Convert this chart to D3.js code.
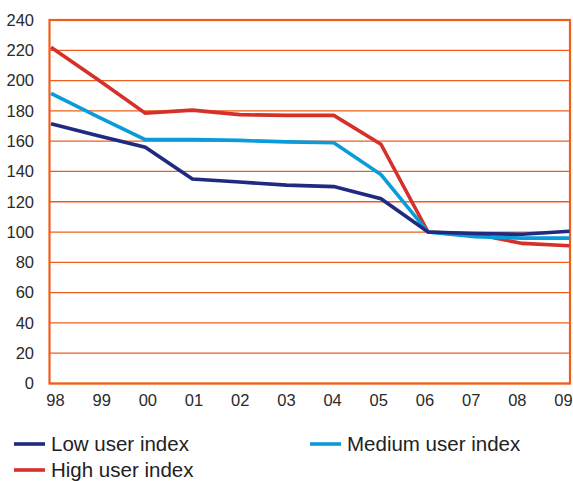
<!DOCTYPE html>
<html>
<head>
<meta charset="utf-8">
<script src="https://cdn.jsdelivr.net/npm/d3@7/dist/d3.min.js"></script>
<style>
  html, body { margin: 0; padding: 0; background: #fff; }
  svg { display: block; font-family: "Liberation Sans", Arial, sans-serif; }
</style>
</head>
<body>
<svg id="chart" width="573" height="481"></svg>
<script>
// Years along the x axis
const years = ["98", "99", "00", "01", "02", "03", "04", "05", "06", "07", "08", "09"];
// Index values per user group
const lowUser    = [171.5, 163.5, 156, 135, 133, 131, 130, 122, 100, 99, 98.5, 100.5];
const mediumUser = [191.5, 176, 161, 161, 160.5, 159.5, 159, 138, 100, 97, 96, 96];
const highUser   = [222, 200.5, 178.5, 180.5, 177.5, 177, 177, 158, 100, 98.5, 92.5, 91];
// Y axis ticks
const yTicks = [0, 20, 40, 60, 80, 100, 120, 140, 160, 180, 200, 220, 240];

const seriesNames = ["Low user index", "Medium user index", "High user index"];
const seriesColors = ["#1f2a80", "#0a9bd9", "#d6302a"];
const seriesValues = [lowUser, mediumUser, highUser];

const svg = d3.select("#chart");
const orange = "#ee5f1e";

const plotLeft = 49.5, plotRight = 570, plotTop = 20, plotBottom = 383.5;

const y = d3.scaleLinear().domain([0, 240]).range([plotBottom, plotTop]);
const x = d3.scalePoint().domain(years).range([51, 569.5]);
const xLabels = d3.scalePoint().domain(years).range([55, 563]);

// Horizontal grid lines
svg.append("g")
  .selectAll("line")
  .data(yTicks)
  .join("line")
  .attr("x1", plotLeft).attr("x2", plotRight)
  .attr("y1", d => y(d)).attr("y2", d => y(d))
  .attr("stroke", orange)
  .attr("stroke-width", 1.3);

// Plot frame
svg.append("rect")
  .attr("x", plotLeft).attr("y", plotTop)
  .attr("width", plotRight - plotLeft).attr("height", plotBottom - plotTop)
  .attr("fill", "none")
  .attr("stroke", orange)
  .attr("stroke-width", 2.2);

// Y axis labels
const yAxis = d3.axisLeft(y).tickValues(yTicks).tickSize(0).tickPadding(0);
const gy = svg.append("g").attr("transform", "translate(34,0)").call(yAxis);
gy.select(".domain").remove();
gy.selectAll("text")
  .attr("font-size", 16.5)
  .attr("fill", "#2a2a2a")
  .attr("font-family", "Liberation Sans, Arial, sans-serif");

// X axis labels
const xAxis = d3.axisBottom(xLabels).tickSize(0).tickPadding(0);
const gx = svg.append("g").attr("transform", "translate(0,394)").call(xAxis);
gx.select(".domain").remove();
gx.selectAll("text")
  .attr("font-size", 16.5)
  .attr("fill", "#2a2a2a")
  .attr("font-family", "Liberation Sans, Arial, sans-serif");

// Series lines (high drawn first, low on top)
const line = d3.line()
  .x((d, i) => x(years[i]))
  .y(d => y(d));

[2, 1, 0].forEach(k => {
  svg.append("path")
    .datum(seriesValues[k])
    .attr("d", line)
    .attr("fill", "none")
    .attr("stroke", seriesColors[k])
    .attr("stroke-width", 3.6)
    .attr("stroke-linejoin", "miter");
});

// Legend
const legendItems = [
  { name: seriesNames[0], color: seriesColors[0], x: 14, y: 444 },
  { name: seriesNames[1], color: seriesColors[1], x: 310, y: 444 },
  { name: seriesNames[2], color: seriesColors[2], x: 14, y: 470 }
];
const lg = svg.append("g")
  .selectAll("g")
  .data(legendItems)
  .join("g")
  .attr("transform", d => `translate(${d.x},${d.y})`);
lg.append("line")
  .attr("x1", 0).attr("x2", 31)
  .attr("y1", 0).attr("y2", 0)
  .attr("stroke", d => d.color)
  .attr("stroke-width", 3.6);
lg.append("text")
  .attr("x", 37)
  .attr("y", 0)
  .attr("dy", "0.35em")
  .attr("font-size", 20.5)
  .attr("fill", "#222")
  .text(d => d.name);
</script>
</body>
</html>
